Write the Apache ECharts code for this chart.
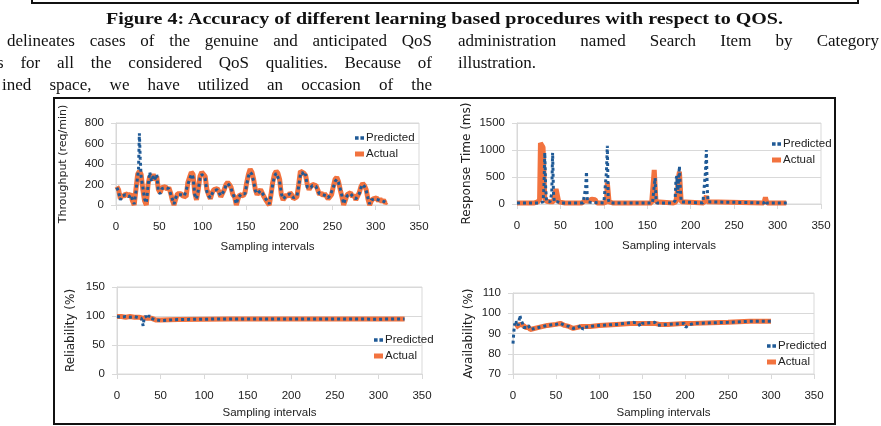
<!DOCTYPE html>
<html><head><meta charset="utf-8">
<script src="https://cdn.jsdelivr.net/npm/echarts@6/dist/echarts.min.js"></script>
<style>
html,body{margin:0;padding:0;background:#fff;width:881px;height:426px;overflow:hidden;position:relative;}
#chart{position:absolute;left:0;top:0;width:881px;height:426px;}
.t{position:absolute;font-family:"Liberation Serif","Times New Roman",serif;font-size:17px;line-height:17px;color:#111;white-space:nowrap;}
.j{text-align:justify;text-align-last:justify;white-space:normal;}
.box{position:absolute;box-sizing:border-box;border:2px solid #111;}
</style></head>
<body>
<div class="box" style="left:31px;top:-10px;width:828px;height:14px;"></div>
<div class="box" style="left:53px;top:97px;width:783px;height:328px;border-width:2.5px;"></div>
<div id="chart"></div>
<div class="t" id="cap" style="left:106px;top:10px;font-weight:bold;transform-origin:0 0;">Figure 4: Accuracy of different learning based procedures with respect to QOS.</div>
<div class="t j" style="left:7px;top:32px;width:425px;">delineates cases of the genuine and anticipated QoS</div>
<div class="t j" style="left:-3px;top:54px;width:435px;">s for all the considered QoS qualities. Because of</div>
<div class="t j" style="left:2px;top:76px;width:430px;">ined space, we have utilized an occasion of the</div>
<div class="t j" style="left:458px;top:32px;width:421px;">administration named Search Item by Category</div>
<div class="t" style="left:458px;top:54px;">illustration.</div>
<script>
// ---- data ----
const xTicks = [0, 50, 100, 150, 200, 250, 300, 350];
const legendNames = ['Predicted', 'Actual'];
const axisTitles = ['Throughput (req/min)', 'Response Time (ms)', 'Reliability (%)', 'Availability (%)'];
const xTitle = 'Sampling intervals';

const thrActual = [[1,180],[3,150],[5,60],[7,100],[9,80],[11,110],[13,100],[15,90],[17,110],[19,40],[21,0],[23,150],[25,300],[27,330],[29,300],[31,150],[33,40],[35,0],[37,200],[39,280],[41,250],[43,300],[45,240],[47,280],[49,150],[51,120],[53,170],[55,160],[57,180],[59,150],[61,170],[63,120],[65,50],[67,0],[69,60],[71,110],[73,100],[75,110],[77,90],[79,100],[81,80],[83,220],[85,270],[87,320],[89,300],[91,120],[93,50],[95,150],[97,280],[99,320],[101,310],[103,280],[105,150],[107,100],[109,60],[111,120],[113,150],[115,140],[117,160],[119,130],[121,80],[123,90],[125,150],[127,200],[129,220],[131,200],[133,170],[135,100],[137,80],[139,0],[141,60],[143,100],[145,110],[147,90],[149,120],[151,220],[153,300],[155,350],[157,320],[159,250],[161,150],[163,100],[165,130],[167,150],[169,140],[171,80],[173,50],[175,60],[177,0],[179,100],[181,220],[183,300],[185,330],[187,310],[189,250],[191,100],[193,50],[195,60],[197,100],[199,80],[201,120],[203,100],[205,60],[207,50],[209,80],[211,200],[213,330],[215,340],[217,310],[219,290],[221,200],[223,150],[225,180],[227,200],[229,210],[231,190],[233,150],[235,100],[237,120],[239,90],[241,110],[243,100],[245,60],[247,80],[249,100],[251,180],[253,250],[255,270],[257,230],[259,150],[261,80],[263,0],[265,50],[267,100],[269,90],[271,120],[273,80],[275,100],[277,50],[279,60],[281,120],[283,180],[285,210],[287,190],[289,150],[291,60],[293,0],[295,40],[297,60],[299,50],[301,70],[303,40],[305,60],[307,30],[309,50],[311,20],[313,30]];
const thrPredicted = [[1,170],[3,130],[5,50],[7,90],[9,90],[11,100],[13,110],[15,80],[17,100],[19,50],[21,10],[23,130],[25,280],[26,350],[27,700],[28,450],[29,280],[31,170],[33,60],[35,20],[37,180],[39,320],[41,230],[43,280],[45,250],[47,300],[49,130],[51,110],[53,160],[55,150],[57,170],[59,160],[61,160],[63,110],[65,60],[67,10],[69,70],[71,100],[73,110],[75,100],[77,100],[79,90],[81,90],[83,200],[85,250],[87,300],[89,270],[91,100],[93,60],[95,140],[97,260],[99,300],[101,290],[103,260],[105,130],[107,90],[109,70],[111,110],[113,140],[115,150],[117,150],[119,120],[121,90],[123,100],[125,140],[127,190],[129,210],[131,190],[133,160],[135,110],[137,70],[139,10],[141,70],[143,90],[145,110],[147,100],[149,110],[151,200],[153,280],[155,320],[157,300],[159,230],[161,140],[163,110],[165,120],[167,140],[169,130],[171,90],[173,60],[175,50],[177,10],[179,90],[181,200],[183,280],[185,310],[187,300],[189,230],[191,110],[193,60],[195,70],[197,90],[199,90],[201,110],[203,110],[205,70],[207,60],[209,90],[211,180],[213,300],[215,320],[217,280],[219,300],[221,170],[223,160],[225,170],[227,190],[229,200],[231,180],[233,140],[235,110],[237,110],[239,100],[241,100],[243,90],[245,70],[247,90],[249,100],[251,170],[253,230],[255,250],[257,220],[259,160],[261,90],[263,10],[265,60],[267,90],[269,100],[271,110],[273,90],[275,90],[277,60],[279,70],[281,110],[283,170],[285,200],[287,180],[289,140],[291,70],[293,10],[295,50],[297,60],[299,60],[301,60],[303,50],[305,60],[307,40],[309,50],[311,30],[313,20]];

const rtActual = [[0,20],[20,20],[24,40],[26,80],[27,1130],[29,1100],[30,1050],[31,1040],[32,100],[34,50],[38,40],[42,40],[44,60],[45,280],[47,270],[48,40],[55,20],[75,20],[78,60],[82,50],[84,80],[86,90],[88,60],[90,80],[92,20],[100,20],[103,40],[104,400],[105,380],[106,40],[110,20],[155,20],[157,40],[158,630],[159,620],[160,40],[162,20],[180,20],[183,40],[185,300],[186,500],[187,600],[188,580],[189,40],[191,20],[215,20],[217,40],[218,150],[219,40],[221,20],[284,20],[285,60],[286,120],[287,60],[288,20],[310,20]];
const rtPredicted = [[0,20],[25,20],[27,50],[30,40],[31,300],[32,950],[33,300],[34,50],[38,40],[40,200],[41,950],[42,200],[43,40],[45,50],[47,40],[50,20],[76,20],[78,40],[79,300],[80,600],[81,40],[85,30],[100,20],[102,40],[103,600],[104,1080],[105,100],[106,30],[110,20],[156,20],[158,40],[159,480],[160,100],[161,20],[180,20],[182,60],[183,450],[184,520],[185,200],[186,450],[187,700],[188,300],[189,40],[191,20],[214,20],[216,40],[217,600],[218,1000],[219,300],[220,40],[222,20],[284,20],[286,60],[287,20],[312,20]];

const relActual = [[0,99],[5,99],[10,98],[15,99],[20,98],[25,98],[28,97],[30,97],[35,96],[40,96],[45,93],[50,93],[60,93.5],[70,94],[100,94.5],[130,95],[160,95],[200,95],[250,95],[300,95],[330,95]];
const relPredicted = [[0,99],[5,98],[10,99],[15,98],[20,99],[25,97],[28,96],[29,90],[30,83],[31,95],[33,100],[35,95],[37,101],[39,96],[41,99],[43,94],[45,93],[50,92],[60,93],[70,94],[100,94.5],[130,95],[160,95],[200,95],[250,95],[300,94.5],[330,95]];

const avActual = [[3,93],[5,93.5],[8,94.5],[10,95],[12,94],[15,93],[18,93],[20,92],[30,93],[40,94],[50,94.5],[55,95],[60,94],[65,93.5],[70,92.5],[80,93.5],[90,93.5],[100,94],[120,94.5],[140,95],[150,95],[165,95],[170,94.5],[180,94.5],[200,95],[210,95],[250,95.5],[275,96],[300,96]];
const avPredicted = [[0,85],[1,91],[2,95],[3,94],[4,96],[5,95],[6,94],[7,96],[8,99],[9,97],[10,96],[11,95],[12,93],[14,92.5],[16,93],[18,94],[20,92],[25,92.5],[30,93],[40,94],[50,94.5],[55,95],[60,94],[65,93.5],[70,92.5],[75,93],[80,94],[81,92],[83,93],[90,93.5],[100,94],[120,94.5],[140,95.5],[146,95],[148,93.5],[150,95],[165,95.5],[167,95.5],[168,94],[170,94.5],[180,94.5],[199,95],[201,93],[203,94],[210,95],[250,95.5],[275,96],[300,96]];

const yRanges = [[0, 800, 200], [0, 1500, 500], [0, 150, 50], [70, 110, 10]];

// ---- layout ----
const grids = [
  {left:116, top:123, width:303, height:82},
  {left:517, top:123, width:304, height:81},
  {left:117, top:287, width:305, height:87},
  {left:513, top:293, width:301, height:81}
];
const nameGaps = [47, 44, 40, 38];
const nameSizes = [11, 12, 12, 12];
const xNameGaps = [36, 36, 33, 33];
const legendPos = [[350,127],[767,133],[369,329],[762,335]];
const FN = '"Liberation Sans",Arial,sans-serif';
const GRID = '#d9d9d9';
const ORANGE = '#f2733f', BLUE = '#1f5a96';

const actualSets = [thrActual, rtActual, relActual, avActual];
const predSets = [thrPredicted, rtPredicted, relPredicted, avPredicted];

const option = {
  animation: false,
  grid: grids.map(g => Object.assign({show:true, borderColor:GRID, borderWidth:1, backgroundColor:'transparent'}, g)),
  xAxis: grids.map((g, i) => ({
    type:'value', gridIndex:i, min:xTicks[0], max:xTicks[xTicks.length-1], interval:50,
    name: xTitle, nameLocation:'middle', nameGap:xNameGaps[i],
    nameTextStyle:{fontFamily:FN, fontSize:11.5, color:'#222'},
    axisLine:{show:true, lineStyle:{color:GRID}},
    axisTick:{show:true, length:5, lineStyle:{color:GRID}},
    axisLabel:{fontFamily:FN, fontSize:11.5, color:'#222', margin:16, formatter: v => String(v)},
    splitLine:{show:false}
  })),
  yAxis: grids.map((g, i) => ({
    type:'value', gridIndex:i, min:yRanges[i][0], max:yRanges[i][1], interval:yRanges[i][2],
    name: axisTitles[i], nameLocation:'middle', nameGap:nameGaps[i],
    nameTextStyle:{fontFamily:'"DejaVu Sans",sans-serif', fontSize:nameSizes[i], color:'#222'},
    axisLine:{show:true, lineStyle:{color:GRID}},
    axisTick:{show:true, length:5, lineStyle:{color:GRID}},
    axisLabel:{fontFamily:FN, fontSize:11.5, color:'#222', margin:12, formatter: v => String(v)},
    splitLine:{show:true, lineStyle:{color:GRID, width:1}}
  })),
  legend: legendPos.map(p => ({
    left:p[0], top:p[1], orient:'vertical', itemGap:4, itemWidth:9, itemHeight:5,
    textStyle:{fontFamily:FN, fontSize:11.5, color:'#222', padding:[0,0,0,-3]},
    selectedMode:false,
    data:[
      {name:legendNames[0], icon:'path://M0,0H4V4H0Z M6,0H10V4H6Z'},
      {name:legendNames[1], icon:'rect'}
    ]
  })),
  series: []
};
for (let i = 0; i < 4; i++) {
  option.series.push({
    name: legendNames[1], type:'line', xAxisIndex:i, yAxisIndex:i, data: actualSets[i],
    showSymbol:false, symbol:'none', color:ORANGE,
    lineStyle:{color:ORANGE, width:5}, z:2
  });
  option.series.push({
    name: legendNames[0], type:'line', xAxisIndex:i, yAxisIndex:i, data: predSets[i],
    showSymbol:false, symbol:'none', color:BLUE,
    lineStyle:{color:BLUE, width:3, type:[3,3]}, z:3
  });
}
const chart = echarts.init(document.getElementById('chart'), null, {renderer:'canvas'});
chart.setOption(option);

// fit caption width to the reference span
const cap = document.getElementById('cap');
const w = cap.getBoundingClientRect().width;
cap.style.transform = 'scaleX(' + (677 / w) + ')';
</script>
</body></html>
